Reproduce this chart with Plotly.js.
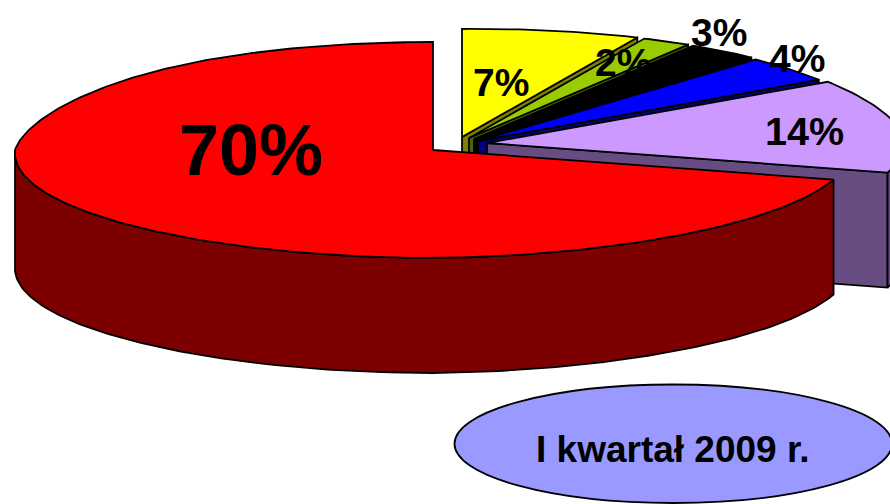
<!DOCTYPE html>
<html>
<head>
<meta charset="utf-8">
<script src="https://cdn.plot.ly/plotly-3.0.1.min.js"></script>
<style>html,body{margin:0;padding:0;background:#fff;overflow:hidden}#chart{width:890px;height:504px}</style>
</head>
<body>
<div id="chart"></div>
<script>
// Data
var shares = [7, 2, 3, 4, 14, 70];
var periodLabel = 'I kwartał 2009 r.';

// Styles per slice
var topColors  = ['#FFFF00', '#99CC00', '#000000', '#0000FF', '#CC99FF', '#FF0000'];
var sideColors = ['#808000', '#4C6600', '#000000', '#000080', '#664C80', '#7D0000'];
var apexX = [462, 469, 474, 478, 487, 433];
var apexY = [137, 138, 139, 141, 143, 150];
var labelX = [501, 623, 719, 797, 804, 251];
var labelY = [82, 62, 32, 58, 131, 150];
var labelSize = [39, 39, 39, 39, 39.5, 72];

// Projection of the tilted pie
var RX = 418, RY = 108, DEPTH = 115, PERSP_BACK = 0.09, PERSP_FRONT = 0.027, TILT = 4;
function project(cx, cy, deg) {
  var t = deg * Math.PI / 180, s = Math.sin(t), c = Math.cos(t);
  var k = c > 0 ? PERSP_BACK : PERSP_FRONT;
  return [cx + RX * (1 - k * s * s * c) * s, cy - RY * c - TILT * Math.max(s, 0)];
}
function arc(cx, cy, a0, a1, dy) {
  var pts = [], n = Math.max(2, Math.ceil(Math.abs(a1 - a0)));
  for (var i = 0; i <= n; i++) {
    var p = project(cx, cy, a0 + (a1 - a0) * i / n);
    pts.push([p[0], p[1] + (dy || 0)]);
  }
  return pts;
}
function poly(pts, fill) {
  return {
    type: 'scatter', mode: 'lines', hoverinfo: 'skip', showlegend: false,
    x: pts.map(function (p) { return p[0]; }),
    y: pts.map(function (p) { return p[1]; }),
    fill: 'toself', fillcolor: fill,
    line: { color: '#000000', width: 1.8 }
  };
}

var traces = [], annotations = [], start = 0;
shares.forEach(function (v, i) {
  var a0 = start * 3.6, a1 = (start + v) * 3.6;
  var cx = apexX[i], cy = apexY[i];
  start += v;
  // radial end face (visible for every slice but the last)
  if (a1 < 360) {
    var e = project(cx, cy, a1);
    traces.push(poly([[cx, cy], e, [e[0], e[1] + DEPTH], [cx, cy + DEPTH], [cx, cy]], sideColors[i]));
  }
  // outer wall: only the front half of the rim shows
  var w0 = Math.max(a0, 90), w1 = Math.min(a1, 270);
  if (w1 > w0) {
    var topEdge = arc(cx, cy, w0, w1, 0);
    var botEdge = arc(cx, cy, w0, w1, DEPTH).reverse();
    traces.push(poly(topEdge.concat(botEdge, [topEdge[0]]), sideColors[i]));
  }
  // top surface
  traces.push(poly([[cx, cy]].concat(arc(cx, cy, a0, a1, 0), [[cx, cy]]), topColors[i]));
  annotations.push({
    x: labelX[i], y: labelY[i], xref: 'x', yref: 'y', showarrow: false,
    text: v + '%', xanchor: 'center', yanchor: 'middle',
    font: { family: 'Liberation Sans, Arial, sans-serif', size: labelSize[i], color: '#000000', weight: 700 }
  });
});

annotations.push({
  x: 673, y: 449, xref: 'x', yref: 'y', showarrow: false,
  text: periodLabel, xanchor: 'center', yanchor: 'middle',
  font: { family: 'Liberation Sans, Arial, sans-serif', size: 37, color: '#000000', weight: 700 }
});

var layout = {
  width: 890, height: 504,
  margin: { l: 0, r: 0, t: 0, b: 0, pad: 0 },
  paper_bgcolor: '#FFFFFF', plot_bgcolor: '#FFFFFF',
  xaxis: { range: [0, 890], visible: false, fixedrange: true },
  yaxis: { range: [504, 0], visible: false, fixedrange: true },
  showlegend: false,
  shapes: [{
    type: 'circle', xref: 'x', yref: 'y', x0: 454.5, x1: 892, y0: 384.5, y1: 503,
    fillcolor: '#9999FF', line: { color: '#000000', width: 1.8 }, layer: 'below'
  }],
  annotations: annotations
};
Plotly.newPlot('chart', traces, layout, { displayModeBar: false, staticPlot: true });
</script>
</body>
</html>
